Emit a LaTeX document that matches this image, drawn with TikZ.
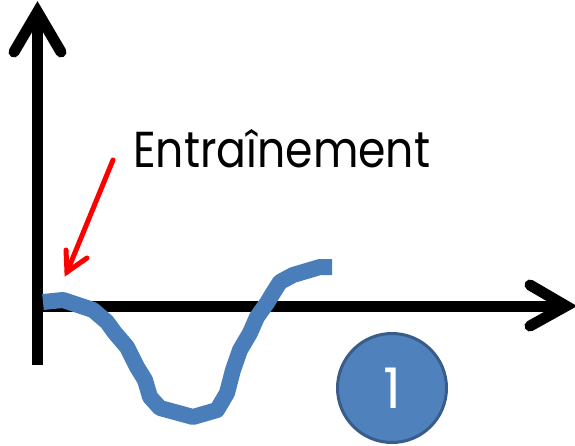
\documentclass[tikz,border=0pt]{standalone}
\usepackage{fontspec}
\setmainfont{Poppins}
\usepackage{graphicx}
\definecolor{curveblue}{HTML}{4A7EBB}
\definecolor{discfill}{HTML}{4F81BD}
\definecolor{discedge}{HTML}{385D8A}
\tikzset{
  axisline/.style={line width=11pt, line cap=round, line join=miter, miter limit=10},
  shaft/.style={line width=11pt, line cap=butt},
  pointer/.style={red, line width=5pt, line cap=round, line join=miter},
  trace/.style={curveblue, line width=16pt, line cap=butt, line join=round},
  disc/.style={circle, fill=discfill, draw=discedge, line width=3pt, minimum size=109pt, inner sep=0pt}
}
\begin{document}
\begin{tikzpicture}[x=1pt, y=-1pt]
\useasboundingbox (0,0) rectangle (575,446);
% axes
\coordinate (origin) at (37.5,306);
\coordinate (ybottom) at (37.5,365);
\coordinate (ytop) at (37.5,12);
\coordinate (xright) at (566,306);
\draw[shaft] (ybottom) -- (ytop);
\draw[shaft] (32,306) -- (xright);
\draw[axisline] (14,52) -- (ytop) -- (61,52);
\draw[axisline] (530,285) -- (xright) -- (530,326);
% label and pointer
\node[anchor=base west, inner sep=0pt] (label) at (133,168)
  {\resizebox{297pt}{38pt}{\fontsize{48pt}{56pt}\selectfont Entraînement}};
\coordinate (ptail) at (113,160);
\coordinate (phead) at (67,272);
\draw[pointer] (ptail) -- (phead);
\draw[pointer] (66,250) -- (phead) -- (87,258);
% response curve
\draw[trace] (43,302) -- (63,300) -- (93,310) -- (107,322) -- (115,333)
  -- (127,347) -- (137,367) -- (145,380) -- (150,397) -- (160,408)
  -- (193,417) -- (217,410) -- (227,393) -- (233,370) -- (240,350)
  -- (250,333) -- (257,317) -- (267,303) -- (273,293) -- (280,282)
  -- (293,275) -- (320,267) -- (332,267);
% numbered disc
\node[disc, text=white] (step1) at (392,388)
  {\fontsize{56pt}{60pt}\selectfont 1};
\end{tikzpicture}
\end{document}
